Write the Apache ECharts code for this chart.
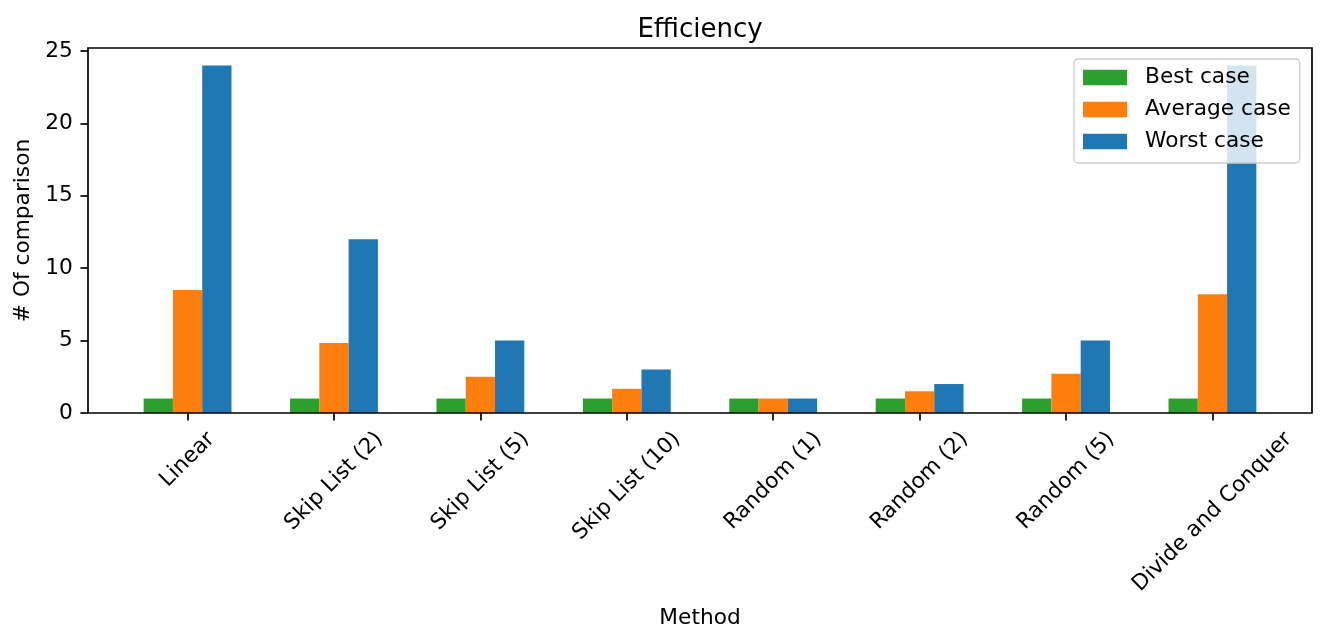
<!DOCTYPE html>
<html>
<head>
<meta charset="utf-8">
<script src="https://cdn.jsdelivr.net/npm/echarts@6/dist/echarts.min.js"></script>
<style>html,body{margin:0;padding:0;background:#fff}#c{width:1328px;height:644px}</style>
</head>
<body>
<div id="c"></div>
<script>
const categories = ['Linear', 'Skip List (2)', 'Skip List (5)', 'Skip List (10)', 'Random (1)', 'Random (2)', 'Random (5)', 'Divide and Conquer'];
const bestCase = [1, 1, 1, 1, 1, 1, 1, 1];
const averageCase = [8.5, 4.83, 2.5, 1.67, 1, 1.5, 2.71, 8.2];
const worstCase = [24, 12, 5, 3, 1, 2, 5, 24];
const yTicks = [0, 5, 10, 15, 20, 25];

const FONT = '"DejaVu Sans", sans-serif';
const fs10 = 21.7, fs12 = 26;
const tickLen = 7.6, tickPad = 7.6, lw = 1.7;
// frame (axes box) in px
const frameL = 88, frameR = 1312, frameT = 48, frameB = 413;
const xMin = -0.68, xMax = 7.68;
const unit = (frameR - frameL) / (xMax - xMin);
const g0Left = frameL + (-0.5 - xMin) * unit;
const g0Right = frameL + (categories.length - 0.5 - xMin) * unit;

// measure label widths to mimic centred rotated labels
const cv = document.createElement('canvas').getContext('2d');
cv.font = fs10 + 'px ' + FONT;
const rich = {};
categories.forEach((c, i) => {
  const L = cv.measureText(c).width;
  const h = 1.0 * fs10;
  const D = tickLen + tickPad + 0.3536 * (L + h);
  const p = 1.4142 * D;
  rich['l' + i] = { fontSize: fs10, fontFamily: FONT, color: '#000', padding: [p, p, 0, 0] };
});

const chart = echarts.init(document.getElementById('c'), null, { renderer: 'canvas' });
chart.setOption({
  animation: false,
  backgroundColor: '#fff',
  title: {
    text: 'Efficiency', left: (frameL + frameR) / 2 - 5, top: 12, textAlign: 'center',
    textStyle: { fontFamily: FONT, fontSize: fs12, fontWeight: 'normal', color: '#000' }
  },
  legend: {
    orient: 'vertical', left: 1074, top: 59,
    padding: [7.5, 9, 10.5, 9],
    itemWidth: 44, itemHeight: 15.5, itemGap: 10,
    icon: 'rect',
    backgroundColor: 'rgba(255,255,255,0.8)',
    borderColor: '#cccccc', borderWidth: 1.3, borderRadius: 4,
    textStyle: { fontFamily: FONT, fontSize: fs10, lineHeight: 22, color: '#000', padding: [0, 0, 0, 13] },
    data: ['Best case', 'Average case', 'Worst case']
  },
  grid: [
    { left: g0Left, right: 1328 - g0Right, top: frameT, bottom: 644 - frameB },
    { left: frameL, right: 1328 - frameR, top: frameT, bottom: 644 - frameB, show: true, borderColor: '#000', borderWidth: lw, backgroundColor: 'transparent', z: 5 }
  ],
  xAxis: [
    {
      type: 'category', gridIndex: 0, data: categories,
      axisLine: { show: false },
      axisTick: { show: true, alignWithLabel: true, length: tickLen, lineStyle: { color: '#000', width: lw } },
      axisLabel: {
        interval: 0, rotate: 45, margin: 0, align: 'center', verticalAlign: 'middle',
        formatter: (v, i) => '{l' + i + '|' + v + '}', rich: rich
      },
      name: 'Method', nameLocation: 'middle', nameGap: 194,
      nameTextStyle: { fontFamily: FONT, fontSize: fs10, color: '#000' }
    },
    { type: 'value', gridIndex: 1, show: false, min: 0, max: 1 }
  ],
  yAxis: [
    {
      type: 'value', gridIndex: 0, min: 0, max: 25.2, interval: 5,
      offset: g0Left - frameL,
      axisLine: { show: false },
      splitLine: { show: false },
      axisTick: { show: true, length: tickLen, customValues: yTicks, lineStyle: { color: '#000', width: lw } },
      axisLabel: { customValues: yTicks, margin: tickLen + tickPad, fontFamily: FONT, fontSize: fs10, color: '#000' },
      name: '# Of comparison', nameLocation: 'middle', nameGap: 52,
      nameTextStyle: { fontFamily: FONT, fontSize: fs10, color: '#000' }
    },
    { type: 'value', gridIndex: 1, show: false, min: 0, max: 1 }
  ],
  series: [
    { name: 'Best case', type: 'bar', xAxisIndex: 0, yAxisIndex: 0, data: bestCase, barWidth: '20%', barGap: '0%', itemStyle: { color: '#2ca02c' } },
    { name: 'Average case', type: 'bar', xAxisIndex: 0, yAxisIndex: 0, data: averageCase, barWidth: '20%', barGap: '0%', itemStyle: { color: '#ff7f0e' } },
    { name: 'Worst case', type: 'bar', xAxisIndex: 0, yAxisIndex: 0, data: worstCase, barWidth: '20%', barGap: '0%', itemStyle: { color: '#1f77b4' } }
  ]
});
</script>
</body>
</html>
